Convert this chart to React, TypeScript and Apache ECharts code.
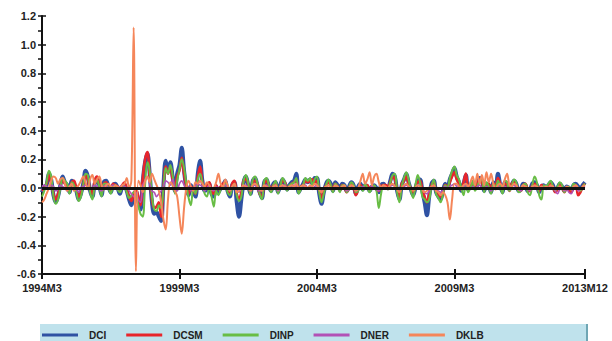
import React, { useEffect, useRef } from "react";
import * as echarts from "echarts";

const tickLabels = ["1994M3", "1999M3", "2004M3", "2009M3", "2013M12"];
const seriesNames = ["DCI", "DCSM", "DINP", "DNER", "DKLB"];

const DCI = [
  -0.03, 0.01, 0.02, 0.10, 0.06, -0.05, -0.10, -0.06, 0.02, 0.08,
  0.04, 0.02, -0.03, 0.05, 0.03, -0.02, -0.08, -0.04, 0.03, 0.12,
  0.08, -0.02, -0.06, 0.03, 0.07, 0.02, -0.05, 0.04, 0.05, 0.01,
  -0.03, 0.02, 0.03, 0.00, -0.04, 0.01, 0.02, -0.02, -0.08, -0.12,
  -0.06, -0.02, -0.09, -0.15, 0.05, 0.18, 0.24, 0.10, -0.10, -0.18,
  -0.17, -0.20, -0.23, 0.02, 0.19, 0.12, 0.18, 0.08, -0.02, 0.10,
  0.16, 0.28, 0.12, 0.00, -0.05, 0.02, -0.01, -0.06, 0.10, 0.19,
  0.05, -0.02, -0.01, 0.03, -0.04, -0.06, 0.01, -0.03, 0.00, 0.02,
  0.05, -0.02, -0.06, 0.02, 0.04, -0.10, -0.20, -0.08, 0.04, 0.08,
  0.02, -0.04, 0.05, 0.07, 0.02, -0.03, -0.07, 0.04, 0.06, 0.01,
  -0.02, 0.03, 0.04, -0.03, 0.02, 0.06, 0.03, -0.01, 0.02, 0.04,
  0.05, 0.10, -0.03, 0.00, 0.03, 0.06, 0.04, 0.06, 0.03, 0.07,
  0.07, -0.04, -0.11, -0.03, 0.03, 0.05, 0.03, -0.02, 0.04, 0.02,
  -0.01, 0.03, 0.02, -0.02, 0.01, 0.04, 0.02, -0.04, 0.01, 0.03,
  -0.01, 0.02, 0.01, -0.02, 0.01, 0.02, 0.00, -0.03, 0.02, 0.03,
  0.01, 0.00, 0.05, 0.10, 0.08, -0.02, -0.08, 0.02, 0.06, 0.10,
  0.04, -0.01, -0.05, 0.00, 0.05, 0.06, -0.02, -0.10, -0.19, -0.06,
  0.03, 0.05, -0.03, -0.06, -0.08, -0.02, 0.03, 0.00, 0.06, 0.10,
  0.14, 0.08, 0.04, -0.02, 0.03, 0.09, -0.01, 0.01, 0.03, 0.00,
  0.02, 0.07, 0.05, -0.02, 0.03, 0.02, -0.03, 0.04, 0.01, 0.10,
  0.02, -0.03, 0.04, 0.03, -0.01, 0.02, 0.05, 0.03, -0.02, -0.01,
  0.03, 0.02, -0.02, -0.01, 0.03, 0.04, 0.02, -0.03, 0.01, 0.02,
  0.00, 0.02, 0.04, 0.02, -0.02, 0.00, 0.03, 0.01, -0.02, 0.01,
  0.00, -0.02, 0.02, 0.03, 0.01, -0.01, 0.02, 0.04,
];

const DCSM = [
  -0.02, 0.00, 0.03, 0.09, 0.04, -0.04, -0.08, -0.04, 0.01, 0.06,
  0.03, 0.01, -0.02, 0.04, 0.05, -0.01, -0.06, -0.03, 0.02, 0.09,
  0.06, -0.01, -0.04, 0.05, 0.08, 0.02, -0.03, 0.03, 0.04, 0.00,
  -0.02, 0.03, 0.02, 0.01, -0.02, 0.02, 0.04, -0.01, -0.06, -0.09,
  -0.04, -0.01, -0.06, -0.12, 0.07, 0.20, 0.25, 0.08, -0.08, -0.14,
  -0.13, -0.10, -0.20, 0.00, 0.15, 0.10, 0.15, 0.06, -0.01, 0.08,
  0.12, 0.21, 0.10, 0.01, -0.04, 0.01, -0.01, -0.04, 0.08, 0.15,
  0.04, -0.01, 0.02, 0.04, -0.02, -0.04, 0.02, -0.01, 0.01, 0.03,
  0.04, -0.01, -0.03, 0.03, 0.05, -0.04, -0.08, -0.03, 0.05, 0.06,
  0.03, -0.03, 0.04, 0.05, 0.03, -0.04, -0.06, 0.03, 0.05, 0.02,
  -0.01, 0.02, 0.03, -0.02, 0.01, 0.05, 0.04, 0.00, 0.01, 0.03,
  0.04, 0.06, -0.02, 0.01, 0.02, 0.05, 0.04, 0.05, 0.06, 0.04,
  0.05, -0.02, -0.07, -0.02, 0.02, 0.04, 0.02, -0.01, 0.03, 0.01,
  -0.02, 0.02, 0.01, -0.03, 0.00, 0.03, 0.01, -0.05, -0.01, 0.02,
  0.00, 0.01, 0.02, -0.01, 0.01, 0.01, -0.01, -0.02, 0.01, 0.02,
  0.02, 0.01, 0.04, 0.08, 0.06, -0.01, -0.06, 0.03, 0.05, 0.08,
  0.03, 0.00, -0.03, 0.01, 0.04, 0.05, -0.01, -0.06, -0.10, -0.04,
  0.02, 0.04, -0.02, -0.04, -0.06, -0.03, 0.02, 0.01, 0.04, 0.08,
  0.11, 0.06, 0.03, -0.01, 0.04, 0.10, 0.00, 0.02, 0.02, 0.01,
  0.03, 0.06, 0.04, -0.01, 0.02, 0.03, -0.02, 0.03, 0.02, 0.07,
  0.03, -0.02, 0.03, 0.02, -0.02, 0.03, 0.04, 0.02, -0.01, -0.02,
  0.02, 0.03, -0.01, -0.02, 0.02, 0.03, 0.01, -0.02, 0.02, 0.01,
  0.01, 0.01, 0.03, 0.01, -0.03, -0.01, 0.02, 0.00, -0.03, 0.00,
  -0.01, -0.03, 0.01, 0.02, -0.05, -0.03, 0.01, 0.03,
];

const DINP = [
  -0.06, -0.02, 0.04, 0.12, 0.08, -0.06, -0.11, -0.08, 0.00, 0.07,
  0.05, 0.03, -0.04, 0.04, 0.02, -0.03, -0.09, -0.06, 0.02, 0.10,
  0.09, -0.03, -0.08, 0.02, 0.06, 0.01, -0.06, 0.03, 0.03, 0.00,
  -0.04, 0.01, 0.02, -0.01, -0.03, 0.00, 0.01, -0.03, -0.07, -0.05,
  -0.03, -0.05, -0.12, -0.18, -0.20, 0.02, 0.18, 0.12, -0.06, -0.15,
  -0.16, -0.12, -0.14, 0.00, 0.14, 0.10, 0.16, 0.09, -0.04, 0.05,
  0.13, 0.20, 0.14, 0.03, -0.07, -0.12, 0.00, -0.04, 0.06, 0.10,
  0.04, -0.04, -0.06, 0.01, -0.06, -0.13, -0.02, -0.05, -0.01, 0.01,
  0.03, -0.03, -0.05, 0.00, 0.03, -0.05, -0.09, -0.06, 0.05, 0.09,
  0.03, -0.05, 0.06, 0.08, 0.03, -0.04, -0.08, 0.05, 0.07, 0.02,
  -0.03, 0.02, 0.05, -0.04, 0.01, 0.07, 0.04, -0.02, 0.02, 0.03,
  0.04, 0.07, -0.04, -0.01, 0.02, 0.07, 0.05, 0.07, 0.02, 0.06,
  0.08, -0.03, -0.10, -0.04, 0.02, 0.06, 0.02, -0.03, 0.03, 0.01,
  -0.03, 0.02, 0.02, -0.03, 0.00, 0.04, 0.02, -0.03, -0.02, 0.01,
  -0.02, 0.03, 0.00, -0.03, 0.00, 0.02, -0.02, -0.14, -0.04, 0.02,
  0.00, -0.01, 0.04, 0.09, 0.10, -0.03, -0.10, 0.01, 0.07, 0.11,
  0.06, -0.02, -0.07, 0.02, 0.09, 0.04, -0.06, -0.08, -0.10, -0.08,
  0.01, 0.06, -0.04, -0.07, -0.10, -0.04, 0.02, 0.00, 0.07, 0.12,
  0.15, 0.09, 0.06, 0.00, -0.05, 0.03, -0.03, 0.00, 0.05, -0.02,
  0.01, 0.05, 0.06, -0.03, 0.04, 0.01, -0.04, 0.03, 0.00, 0.05,
  0.01, -0.04, 0.05, 0.04, -0.02, 0.01, 0.06, 0.04, -0.03, -0.02,
  0.02, 0.03, -0.03, -0.05, 0.02, 0.08, 0.04, -0.05, -0.08, 0.02,
  0.01, 0.03, 0.05, 0.01, -0.02, 0.01, 0.04, 0.02, -0.03, 0.00,
  0.01, -0.01, 0.03, 0.02, 0.00, -0.02, 0.01, 0.03,
];

const DNER = [
  0.01, 0.02, 0.01, -0.01, 0.02, 0.01, -0.02, -0.01, 0.02, 0.01,
  0.00, -0.02, 0.01, 0.02, 0.00, -0.01, -0.03, 0.00, 0.01, 0.02,
  0.01, -0.01, 0.00, 0.02, 0.01, -0.01, -0.02, 0.01, 0.02, 0.00,
  0.01, 0.02, 0.00, -0.01, 0.01, 0.02, 0.01, 0.00, -0.02, -0.04,
  -0.06, -0.03, -0.08, -0.10, 0.02, 0.05, 0.08, 0.03, -0.02, -0.03,
  -0.06, -0.04, -0.02, 0.01, 0.05, 0.04, 0.02, 0.06, 0.00, -0.02,
  0.03, 0.05, 0.02, -0.01, 0.01, -0.02, 0.00, 0.01, 0.03, 0.02,
  0.01, -0.02, 0.00, 0.02, -0.01, -0.02, 0.01, 0.00, -0.01, 0.01,
  0.02, 0.00, -0.02, 0.01, 0.02, -0.01, -0.03, 0.00, 0.01, 0.02,
  0.00, -0.02, 0.01, 0.02, -0.01, -0.02, -0.01, 0.01, 0.02, 0.00,
  -0.01, 0.01, 0.02, -0.02, 0.00, 0.01, 0.02, -0.01, 0.00, 0.01,
  0.02, 0.01, -0.01, 0.00, 0.01, 0.02, 0.00, 0.01, -0.01, 0.01,
  0.02, 0.00, -0.02, -0.01, 0.01, 0.00, -0.01, 0.00, 0.01, 0.00,
  -0.01, 0.01, 0.00, -0.02, -0.01, 0.01, 0.00, -0.02, -0.01, 0.00,
  0.01, 0.00, -0.01, 0.00, 0.01, 0.00, -0.01, -0.02, 0.00, 0.01,
  0.00, -0.01, 0.01, 0.02, 0.01, -0.01, -0.02, 0.00, 0.01, 0.02,
  0.01, 0.00, -0.01, 0.00, 0.02, 0.01, -0.01, -0.03, -0.04, -0.02,
  0.00, 0.01, -0.01, -0.02, -0.03, -0.01, 0.01, 0.00, 0.01, 0.02,
  0.03, 0.01, 0.00, -0.01, 0.01, 0.02, 0.00, -0.01, 0.01, 0.00,
  0.01, 0.02, 0.00, -0.01, 0.01, 0.00, -0.02, 0.01, 0.00, 0.01,
  0.00, -0.01, 0.01, 0.00, -0.01, 0.01, 0.02, 0.00, -0.01, -0.02,
  0.00, 0.01, -0.01, -0.02, 0.00, 0.01, 0.00, -0.01, 0.01, 0.00,
  -0.01, 0.00, 0.01, 0.00, -0.02, -0.04, -0.01, 0.00, -0.02, -0.01,
  -0.03, -0.04, 0.00, 0.01, -0.02, -0.01, 0.00, 0.01,
];

const DKLB = [
  -0.10, -0.08, -0.04, 0.00, 0.05, 0.08, 0.07, 0.03, 0.06, 0.07,
  0.03, -0.02, 0.01, 0.03, -0.02, 0.00, 0.02, 0.05, 0.08, 0.04,
  -0.01, 0.06, 0.09, 0.03, 0.06, 0.08, 0.02, -0.01, 0.02, 0.03,
  0.01, 0.00, 0.02, 0.01, 0.00, 0.02, 0.03, 0.07, 0.00, 0.05,
  1.12, -0.58, 0.05, 0.02, -0.03, 0.05, 0.08, 0.04, 0.10, 0.06,
  0.02, -0.02, -0.10, -0.22, -0.29, -0.08, 0.04, 0.02, -0.02, -0.06,
  -0.20, -0.32, -0.14, 0.00, 0.05, 0.01, -0.02, 0.04, 0.03, 0.05,
  0.03, 0.01, 0.04, 0.02, -0.01, 0.00, 0.04, 0.10, 0.03, 0.01,
  0.06, 0.02, -0.02, 0.01, 0.03, -0.03, -0.02, 0.00, 0.02, 0.01,
  0.00, -0.02, 0.02, 0.03, 0.01, -0.01, -0.02, 0.02, 0.01, 0.00,
  -0.01, 0.01, 0.02, -0.01, 0.01, 0.02, 0.01, 0.00, 0.01, 0.02,
  0.01, 0.03, 0.00, 0.01, 0.02, 0.01, 0.00, 0.02, 0.01, 0.03,
  0.02, -0.01, -0.03, 0.00, 0.01, 0.02, 0.00, -0.01, 0.02, 0.01,
  0.00, 0.01, 0.02, -0.01, 0.00, 0.02, 0.01, -0.02, 0.00, 0.05,
  0.10, 0.03, 0.06, 0.11, 0.02, 0.08, 0.10, 0.04, 0.00, 0.02,
  0.01, 0.00, 0.02, 0.03, 0.01, -0.01, -0.03, 0.00, 0.02, 0.03,
  0.01, 0.00, -0.02, 0.00, 0.02, 0.01, -0.01, -0.03, -0.02, 0.00,
  0.01, 0.02, -0.02, -0.03, -0.05, -0.03, -0.05, -0.10, -0.22, -0.08,
  0.03, 0.03, 0.01, 0.00, 0.02, 0.03, 0.01, 0.04, 0.08, 0.02,
  0.10, 0.03, 0.09, 0.02, 0.11, 0.04, 0.10, 0.03, -0.01, 0.02,
  0.03, 0.01, 0.06, 0.10, 0.02, 0.01, 0.03, 0.02, -0.01, 0.00,
  0.02, 0.01, 0.00, -0.01, 0.01, 0.02, 0.01, 0.00, 0.01, 0.00,
  0.01, 0.00, 0.02, 0.01, -0.01, 0.00, 0.01, 0.00, -0.01, 0.01,
  0.00, -0.01, 0.01, 0.02, 0.00, -0.01, 0.01, 0.02,
];

const seriesData = [DCI, DCSM, DINP, DNER, DKLB];
const colors = ["#2f52a3", "#e8252b", "#68bd45", "#b251b6", "#f5865a"];
const widths = [4, 2.6, 2, 1.6, 2];

// monthly categories 1994M3 .. 2013M12
const categories: string[] = [];
for (let y = 1994; y <= 2013; y++) {
  for (let m = y === 1994 ? 3 : 1; m <= 12; m++) categories.push(`${y}M${m}`);
}
const showIdx = (i: number) => tickLabels.indexOf(categories[i]) >= 0;

const FONT = "'Liberation Sans', Arial, sans-serif";

export default function App() {
  const ref = useRef<HTMLDivElement>(null);
  useEffect(() => {
    const chart = echarts.init(ref.current!, null, { renderer: "svg" });
    const yBase = {
      type: "value" as const,
      min: -0.6,
      max: 1.2,
      interval: 0.2,
      position: "left" as const,
      splitLine: { show: false },
    };
    const xBase = {
      type: "category" as const,
      data: categories,
      boundaryGap: false,
      position: "bottom" as const,
      splitLine: { show: false },
    };
    chart.setOption({
      animation: false,
      backgroundColor: "#ffffff",
      grid: { left: 42, right: 27, top: 16, bottom: 67, containLabel: false },
      graphic: [
        {
          type: "rect",
          left: 40,
          top: 324,
          z: 0,
          shape: { width: 548, height: 20 },
          style: { fill: "#bfe2ec" },
        },
        {
          type: "rect",
          left: 586,
          top: 324,
          z: 1,
          shape: { width: 2, height: 20 },
          style: { fill: "#6fa6b4" },
        },
      ],
      legend: {
        data: seriesNames.map((name, k) => ({
          name,
          icon: "rect",
          itemStyle: { color: colors[k] },
        })),
        left: 42,
        top: 326 + 4,
        z: 10,
        itemWidth: 36,
        itemHeight: 3,
        itemGap: 20,
        padding: 0,
        textStyle: {
          fontFamily: FONT,
          fontWeight: "bold",
          fontSize: 10,
          color: "#222",
          padding: [0, 0, 0, 6],
        },
      },
      xAxis: [
        {
          ...xBase,
          axisLine: { show: true, onZero: false, lineStyle: { color: "#111", width: 2 } },
          axisTick: { show: true, interval: (i: number) => showIdx(i), length: 5, lineStyle: { color: "#111", width: 2 } },
          axisLabel: {
            show: true,
            interval: (i: number) => showIdx(i),
            fontFamily: FONT,
            fontWeight: "bold",
            fontSize: 11,
            color: "#222",
            margin: 8,
          },
        },
        {
          ...xBase,
          axisLine: { show: false, onZero: false },
          axisTick: { show: true, inside: true, interval: (i: number) => showIdx(i), length: 5, lineStyle: { color: "#111", width: 2 } },
          axisLabel: { show: false },
        },
      ],
      yAxis: [
        {
          ...yBase,
          axisLine: { show: true, lineStyle: { color: "#111", width: 2 } },
          axisTick: { show: true, length: 4, lineStyle: { color: "#111", width: 1.5 } },
          minorTick: { show: true, splitNumber: 2, length: 4, lineStyle: { color: "#111", width: 1.5 } },
          axisLabel: {
            fontFamily: FONT,
            fontWeight: "bold",
            fontSize: 11,
            color: "#222",
            margin: 6,
            formatter: (v: number) => v.toFixed(1),
          },
        },
        {
          ...yBase,
          axisLine: { show: false },
          axisTick: { show: true, inside: true, length: 4, lineStyle: { color: "#111", width: 1.5 } },
          minorTick: { show: false },
          axisLabel: { show: false },
        },
      ],
      series: seriesNames.map((name, k) => ({
        name,
        type: "line",
        xAxisIndex: 0,
        yAxisIndex: 0,
        data: seriesData[k],
        smooth: 0.35,
        symbol: "none",
        color: colors[k],
        lineStyle: { color: colors[k], width: widths[k] },
        z: 2 + k,
        ...(k === seriesNames.length - 1
          ? {
              markLine: {
                silent: true,
                z: 20,
                symbol: "none",
                label: { show: false },
                lineStyle: { color: "#111", width: 3, type: "solid" },
                emphasis: { disabled: true },
                data: [{ yAxis: 0 }],
              },
            }
          : {}),
      })),
    });
    return () => chart.dispose();
  }, []);
  return <div ref={ref} style={{ width: 612, height: 341, position: "absolute", left: 0, top: 0 }} />;
}
